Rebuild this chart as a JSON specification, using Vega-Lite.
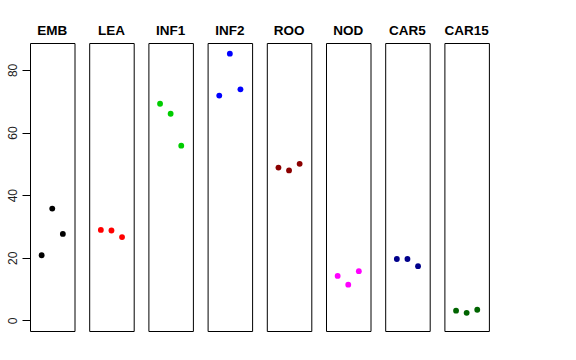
{
  "$schema": "https://vega.github.io/schema/vega-lite/v6.json",
  "padding": {"left": 5, "top": 23, "right": 5, "bottom": 5},
  "background": "white",
  "data": {"values": [
    {"tissue": "EMB", "rep": 1, "value": 20.8},
    {"tissue": "EMB", "rep": 2, "value": 35.7},
    {"tissue": "EMB", "rep": 3, "value": 27.6},
    {"tissue": "LEA", "rep": 1, "value": 28.9},
    {"tissue": "LEA", "rep": 2, "value": 28.7},
    {"tissue": "LEA", "rep": 3, "value": 26.6},
    {"tissue": "INF1", "rep": 1, "value": 69.2},
    {"tissue": "INF1", "rep": 2, "value": 66.0},
    {"tissue": "INF1", "rep": 3, "value": 55.8},
    {"tissue": "INF2", "rep": 1, "value": 71.8},
    {"tissue": "INF2", "rep": 2, "value": 85.2},
    {"tissue": "INF2", "rep": 3, "value": 73.8},
    {"tissue": "ROO", "rep": 1, "value": 48.8},
    {"tissue": "ROO", "rep": 2, "value": 47.9},
    {"tissue": "ROO", "rep": 3, "value": 50.0},
    {"tissue": "NOD", "rep": 1, "value": 14.2},
    {"tissue": "NOD", "rep": 2, "value": 11.4},
    {"tissue": "NOD", "rep": 3, "value": 15.7},
    {"tissue": "CAR5", "rep": 1, "value": 19.6},
    {"tissue": "CAR5", "rep": 2, "value": 19.6},
    {"tissue": "CAR5", "rep": 3, "value": 17.3},
    {"tissue": "CAR15", "rep": 1, "value": 3.1},
    {"tissue": "CAR15", "rep": 2, "value": 2.4},
    {"tissue": "CAR15", "rep": 3, "value": 3.4}
  ]},
  "bounds": "flush",
  "facet": {
    "column": {
      "field": "tissue",
      "type": "nominal",
      "sort": ["EMB", "LEA", "INF1", "INF2", "ROO", "NOD", "CAR5", "CAR15"],
      "header": {
        "title": null,
        "labelFont": "Liberation Sans",
        "labelFontSize": 13.5,
        "labelFontWeight": "bold",
        "labelColor": "black",
        "labelPadding": 6
      }
    }
  },
  "spacing": 14.2,
  "spec": {
    "width": 44.5,
    "height": 288,
    "mark": {"type": "point", "filled": true, "size": 34, "opacity": 1},
    "encoding": {
      "x": {"field": "rep", "type": "quantitative", "scale": {"domain": [-0.1, 4.1], "nice": false, "zero": false}, "axis": null},
      "y": {
        "field": "value", "type": "quantitative",
        "scale": {"domain": [-3.4, 88.6], "nice": false, "zero": false},
        "axis": {
          "title": null, "values": [0, 20, 40, 60, 80], "grid": false, "domain": false,
          "tickSize": 8, "tickColor": "black", "labelAngle": -90, "labelAlign": "center", "labelBaseline": "bottom",
          "labelPadding": 3, "labelFont": "Liberation Sans", "labelFontSize": 12, "labelColor": "#222",
          "minExtent": 24, "maxExtent": 24
        }
      },
      "color": {
        "field": "tissue", "type": "nominal",
        "scale": {
          "domain": ["EMB", "LEA", "INF1", "INF2", "ROO", "NOD", "CAR5", "CAR15"],
          "range": ["#000000", "#FF0000", "#00CD00", "#0000FF", "#8B0000", "#FF00FF", "#00008B", "#006400"]
        },
        "legend": null
      }
    }
  },
  "config": {
    "view": {"stroke": "black", "strokeWidth": 1}
  }
}
